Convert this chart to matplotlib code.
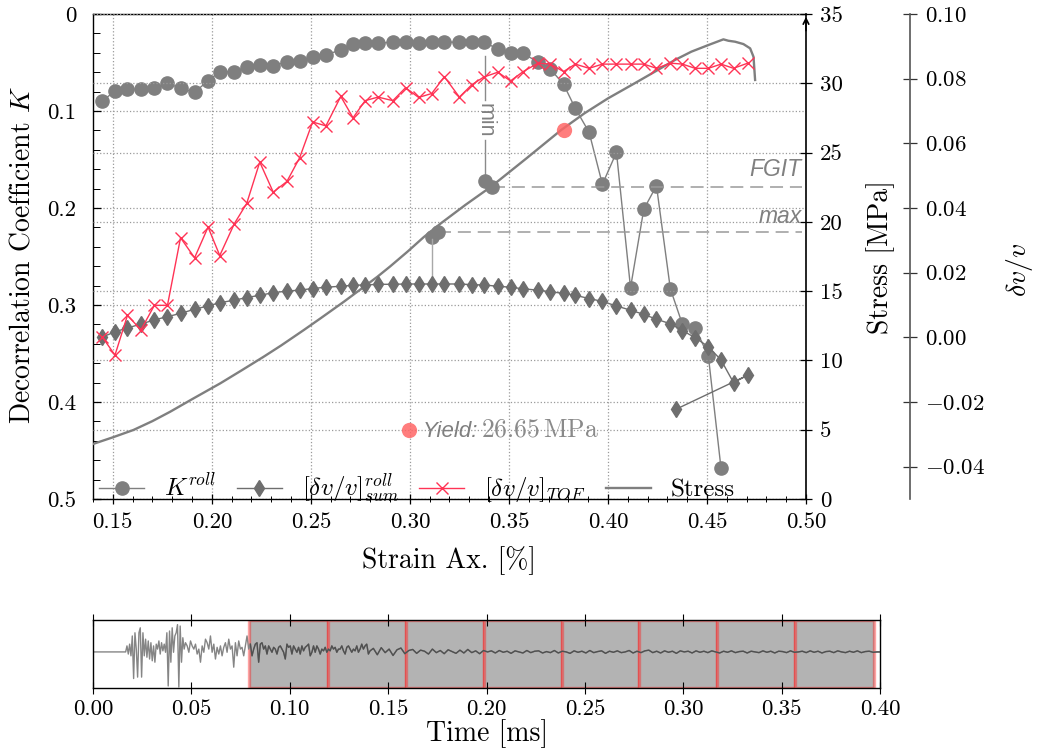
import numpy as np
import matplotlib
matplotlib.use("Agg")
import matplotlib.pyplot as plt
from matplotlib.patches import Rectangle
from matplotlib.ticker import MultipleLocator, FixedLocator, FuncFormatter

plt.rcParams['font.family'] = 'cmr10'
plt.rcParams['mathtext.fontset'] = 'cm'
plt.rcParams['axes.formatter.use_mathtext'] = True
plt.rcParams['axes.unicode_minus'] = True

# ---------------- data ----------------
strain = [0.1447, 0.1511, 0.1574, 0.1642, 0.1710, 0.1776, 0.1842, 0.1913, 0.1981, 0.2040,
          0.2114, 0.2176, 0.2242, 0.2310, 0.2379, 0.2443, 0.2509, 0.2576, 0.2651, 0.2713,
          0.2774, 0.2839, 0.2914, 0.2978, 0.3044, 0.3110, 0.3174, 0.3250, 0.3312, 0.3373,
          0.3444, 0.3508, 0.3572, 0.3647, 0.3709, 0.3776, 0.3835, 0.3905, 0.3972, 0.4043,
          0.4114, 0.4181, 0.4245, 0.4315, 0.4376, 0.4440, 0.4507, 0.4571]
strain_extra = [0.4634, 0.4706]
strain_sum_last = [0.4345]

K_roll = [0.0897, 0.0794, 0.0776, 0.0776, 0.0760, 0.0714, 0.0766, 0.0807, 0.0688, 0.0595,
          0.0595, 0.0546, 0.0529, 0.0533, 0.0495, 0.0485, 0.0446, 0.0420, 0.0371, 0.0309,
          0.0302, 0.0302, 0.0289, 0.0289, 0.0296, 0.0289, 0.0289, 0.0292, 0.0289, 0.0289,
          0.0361, 0.0405, 0.0405, 0.0498, 0.0567, 0.0725, 0.0972, 0.1220, 0.1756, 0.1426,
          0.2822, 0.2013, 0.1770, 0.2832, 0.3199, 0.3234, 0.3526, 0.4684]

dvv_sum = [0.0001, 0.0017, 0.0029, 0.0041, 0.0054, 0.0064, 0.0074, 0.0087, 0.0097, 0.0107,
           0.0115, 0.0123, 0.0130, 0.0138, 0.0143, 0.0146, 0.0151, 0.0155, 0.0158, 0.0161,
           0.0162, 0.0164, 0.0164, 0.0165, 0.0165, 0.0165, 0.0165, 0.0165, 0.0163, 0.0162,
           0.0158, 0.0155, 0.0150, 0.0146, 0.0141, 0.0136, 0.0130, 0.0120, 0.0111, 0.0097,
           0.0084, 0.0071, 0.0056, 0.0042, 0.0021, -0.0001, -0.0029, -0.0070,
           -0.0140, -0.0117, -0.0222]

dvv_tof = [0.0001, -0.0055, 0.0068, 0.0023, 0.0099, 0.0099, 0.0308, 0.0246, 0.0341, 0.0253,
           0.0352, 0.0414, 0.0542, 0.0449, 0.0482, 0.0555, 0.0666, 0.0654, 0.0745, 0.0679,
           0.0732, 0.0743, 0.0732, 0.0772, 0.0742, 0.0754, 0.0806, 0.0743, 0.0781, 0.0805,
           0.0820, 0.0793, 0.0822, 0.0848, 0.0845, 0.0822, 0.0845, 0.0832, 0.0845, 0.0845,
           0.0845, 0.0845, 0.0832, 0.0848, 0.0845, 0.0832, 0.0832, 0.0845,
           0.0832, 0.0848]

stress_strain = [0.1400, 0.1500, 0.1604, 0.1700, 0.1790, 0.1900, 0.2043, 0.2150, 0.2262, 0.2350,
                 0.2465, 0.2550, 0.2667, 0.2750, 0.2836, 0.2900, 0.2988, 0.3070, 0.3157, 0.3280,
                 0.3410, 0.3590, 0.3764, 0.3880, 0.4000, 0.4135, 0.4236, 0.4338, 0.4421, 0.4507,
                 0.4583, 0.4608, 0.4642, 0.4684, 0.4718, 0.4735, 0.4743]
stress = [3.97, 4.45, 4.98, 5.62, 6.30, 7.20, 8.35, 9.28, 10.27, 11.08,
          12.20, 13.05, 14.24, 15.12, 16.04, 16.78, 17.85, 18.90, 19.90, 21.22,
          22.54, 24.60, 26.63, 27.82, 28.91, 30.00, 30.83, 31.68, 32.28, 32.76,
          33.17, 33.07, 33.00, 32.83, 32.52, 31.91, 30.24]

# markers of K-min / dv/v-max on the stress curve
min_strain = [0.3381, 0.3413]
min_stress = [22.95, 22.49]
max_strain = [0.3110, 0.3142]
max_stress = [18.88, 19.29]
fgit_stress = 22.49
max_level_stress = 19.29
yield_strain = 0.3776
yield_stress = 26.65

# tick labels
x_ticks = [0.15, 0.20, 0.25, 0.30, 0.35, 0.40, 0.45, 0.50]
k_ticks = [0.0, 0.1, 0.2, 0.3, 0.4, 0.5]
k_tick_labels = ['0', '0.1', '0.2', '0.3', '0.4', '0.5']
stress_ticks = [0, 5, 10, 15, 20, 25, 30, 35]
dvv_ticks = [-0.04, -0.02, 0.00, 0.02, 0.04, 0.06, 0.08, 0.10]
time_ticks = [0.00, 0.05, 0.10, 0.15, 0.20, 0.25, 0.30, 0.35, 0.40]

# waveform (time in ms, amplitude normalised)
wave_a_start, wave_a_step = 0.01659, 0.000676
wave_a = [0.00, 0.17, -0.06, 0.22, -0.11, 0.45, -0.75, 0.54, 0.08, -0.71,
          0.54, 0.68, -0.71, 0.54, -0.11, 0.36, -0.15, 0.31, -0.20, 0.26,
          -0.25, 0.17, -0.29, 0.22, 0.08, 0.31, -0.06, 0.26, 0.03, 0.22,
          -0.01, 0.54, -0.96, 0.59, -0.29, 0.68, -0.01, 0.45, 0.54, 0.77,
          -0.99, 0.73, -0.29, 0.40, 0.08, 0.26]
wave_b_start, wave_b_step = 0.04787, 0.000845
wave_b = [0.17, -0.01, 0.31, 0.17, 0.08, 0.22, -0.06, 0.08, -0.29, 0.17,
          -0.01, 0.36, 0.26, 0.08, 0.45, -0.01, 0.22, -0.20, 0.13, -0.06,
          0.17, -0.11, 0.13, 0.26, -0.01, 0.36, 0.08, 0.17, -0.43, 0.26,
          -0.11, 0.31, 0.08, 0.13, -0.11, 0.17, 0.45, 0.08, 0.22, -0.11,
          0.08, 0.22, 0.26, -0.29, 0.22, 0.26, 0.08, 0.17, -0.06, 0.17,
          0.08, -0.01, 0.13, 0.08, -0.06, 0.13, 0.17, 0.08, -0.01, -0.20,
          0.22, 0.13, 0.17, -0.06, 0.17, 0.08, -0.01, 0.13, -0.06, 0.17,
          0.03, 0.13, 0.17, 0.22, -0.11, -0.01, 0.17, -0.01, 0.17, 0.08,
          -0.06, 0.08, 0.03, 0.13, -0.01, 0.08, 0.03, 0.17, 0.08, 0.13,
          -0.01, 0.08, 0.08, 0.17, 0.03, -0.06, 0.13, 0.17, 0.08, -0.01,
          0.08, 0.03, 0.17, -0.01, 0.08, 0.22, 0.08, 0.17, 0.22, -0.06,
          0.03]
wave_c_start, wave_c_step = 0.1425, 0.002
wave_c = [0.10, -0.08, 0.12, -0.02, 0.08, -0.10, 0.06, 0.11, -0.05, 0.04,
          0.07, -0.04, 0.05, 0.02, -0.06, 0.08, -0.02, 0.04, -0.05, 0.06,
          0.01, -0.04, 0.05, -0.03, 0.07, -0.02, 0.03, -0.05, 0.04, 0.00,
          0.03, -0.03, 0.04, -0.01, 0.02, -0.04, 0.03, 0.00, -0.03, 0.04,
          -0.02, 0.02, 0.03, -0.03, 0.01, -0.02, 0.04, -0.03, 0.02, 0.00,
          -0.04, 0.03, -0.01, 0.02, -0.03, 0.04, -0.02, 0.01, 0.03, -0.04,
          0.02, -0.01, 0.03, -0.02, 0.00, 0.04, -0.03, 0.02, -0.02, 0.03,
          0.05, -0.02, 0.02, -0.03, 0.03, -0.01, 0.02, -0.04, 0.03, 0.00,
          0.02, -0.03, 0.03, -0.01, 0.02, -0.02, 0.03, 0.00, -0.03, 0.02,
          -0.01, 0.03, -0.02, 0.01, 0.02, -0.03, 0.02, 0.00, -0.02, 0.03,
          -0.01, 0.02, -0.03, 0.02, 0.01, -0.02, 0.03, -0.01, 0.00, 0.02,
          -0.02, 0.03, -0.01, 0.02, -0.03, 0.01, 0.02, -0.02, 0.03, 0.00,
          -0.02, 0.02, -0.01, 0.03, -0.02, 0.01, 0.02, -0.01, 0.00]
window_edges = [0.0795, 0.1192, 0.1590, 0.1988, 0.2383, 0.2775, 0.3172, 0.3570, 0.3968]

# ---------------- styling ----------------
GREY = '#7f7f7f'
DGREY = '#6e6e6e'
RED = '#ff3355'
TICK_FS = 16.5
LABEL_FS = 20
SANS = 'Liberation Sans'

fig = plt.figure(figsize=(10.45, 7.49), dpi=100)
W, H = 1045.0, 749.0
ax = fig.add_axes([93 / W, 1 - 499 / H, 713 / W, 485 / H])
ax2 = ax.twinx()
ax3 = ax.twinx()

ax.set_xlim(0.14, 0.50)
ax.set_ylim(0.5, 0.0)
ax2.set_ylim(0, 35)
ax3.set_ylim(-0.05, 0.10)

# grids
ax.grid(True, which='major', ls=':', color='#9a9a9a', lw=0.9)
ax2.yaxis.grid(True, ls=':', color='#9a9a9a', lw=0.9)
ax.set_axisbelow(True)

# spines
for s in ['left', 'bottom', 'top']:
    ax.spines[s].set_color('black')
    ax.spines[s].set_linewidth(1.0)
ax.spines['right'].set_visible(False)
for s in ['left', 'bottom', 'top']:
    ax2.spines[s].set_visible(False)
    ax3.spines[s].set_visible(False)
ax2.spines['right'].set_color('black')
ax2.spines['right'].set_linewidth(1.2)
ax3.spines['right'].set_position(('axes', 817 / 713))
ax3.spines['right'].set_color('#555555')
ax3.spines['right'].set_linewidth(1.2)

# ticks
ax.xaxis.set_major_locator(FixedLocator(x_ticks))
ax.xaxis.set_minor_locator(MultipleLocator(0.01))
ax.xaxis.set_major_formatter(FuncFormatter(lambda v, p: '%.2f' % v))
ax.set_yticks(k_ticks)
ax.set_yticklabels(k_tick_labels)
ax.yaxis.set_minor_locator(MultipleLocator(0.02))
ax.tick_params(axis='x', which='major', direction='inout', length=7, width=0.9, labelsize=TICK_FS, pad=6)
ax.tick_params(axis='x', which='minor', direction='inout', length=5, width=0.7)
ax.tick_params(axis='y', which='major', direction='in', length=6, width=0.9, labelsize=TICK_FS, pad=12)
ax.tick_params(axis='y', which='minor', direction='in', length=5, width=0.7)

ax2.set_yticks(stress_ticks)
ax2.set_yticklabels([str(t) for t in stress_ticks])
ax2.tick_params(axis='y', direction='inout', length=8, width=0.9, labelsize=TICK_FS, pad=6)

ax3.set_yticks(dvv_ticks)
ax3.yaxis.set_major_formatter(FuncFormatter(lambda v, p: r'$%.2f$' % v))
ax3.tick_params(axis='y', direction='inout', length=10, width=0.9, labelsize=TICK_FS, pad=6,
                color='#333333')

# ---------------- data plots ----------------
ax2.plot(stress_strain, stress, color=GREY, lw=1.7, zorder=2, label='Stress')

lk, = ax.plot(strain, K_roll, color=GREY, lw=1.0, marker='o', ms=9.5,
              mfc=GREY, mec=GREY, zorder=3, label=r'$K^{roll}$')

ls_, = ax3.plot(strain + strain_extra + strain_sum_last, dvv_sum, color=DGREY, lw=1.0,
                marker='d', ms=8, mfc=DGREY, mec=DGREY, zorder=3,
                label=r'$[\delta v/v]^{roll}_{sum}$')
lt, = ax3.plot(strain + strain_extra, dvv_tof, color=RED, lw=1.0, marker='x', ms=8,
               mew=1.0, zorder=3, label=r'$[\delta v/v]_{TOF}$')
lst, = ax2.plot([], [], color=GREY, lw=1.7, label='Stress')

# min / max markers & guides
ax2.plot(min_strain, min_stress, 'o', color=GREY, ms=9.5, zorder=4)
ax2.plot(max_strain, max_stress, 'o', color=GREY, ms=9.5, zorder=4)
ax2.plot([min_strain[1], 0.4978], [fgit_stress, fgit_stress], color='#9a9a9a', lw=1.1,
         ls=(0, (8.5, 4.5)), zorder=2)
ax2.plot([max_strain[1], 0.4978], [max_level_stress, max_level_stress], color='#9a9a9a', lw=1.1,
         ls=(0, (8.5, 4.5)), zorder=2)
ax.plot([min_strain[0], min_strain[0], np.nan, min_strain[0], min_strain[0]],
        [0.0433, 0.0887, np.nan, 0.1299, 0.1722], color='#8a8a8a', lw=1.0, zorder=2)
ax.text(min_strain[0], 0.1093, 'min', rotation=270, ha='center', va='center',
        fontsize=15.5, family=SANS, color='#808080')
ax3.plot([max_strain[0], max_strain[0]], [0.0165, 0.0305], color='#a8a8a8', lw=1.0, zorder=2)

ax2.text(0.4978, 23.75, 'FGIT', ha='right', va='center', fontsize=16.5, family=SANS,
         style='italic', color='#808080')
ax2.text(0.4978, 20.42, 'max', ha='right', va='center', fontsize=16.5, family=SANS,
         style='italic', color='#808080')

# yield
ax2.plot([yield_strain], [26.63], 'o', color='#ff6666', alpha=0.85, ms=11, mec='none', zorder=5)
ax2.plot([0.2995], [4.97], 'o', color='#ff6666', alpha=0.85, ms=11, mec='none', zorder=5)
ax2.text(0.3064, 4.50, 'Yield:', ha='left', va='baseline', fontsize=16, family=SANS,
         style='italic', color='#808080')
ax2.text(0.3359, 4.50, r'$\mathrm{%.2f\,MPa}$' % yield_stress, ha='left', va='baseline',
         fontsize=18.5, color='#8a8a8a')

# arrow on stress axis
ax2.annotate('', xy=(1.0, 1.0), xytext=(1.0, 0.96), xycoords='axes fraction',
             arrowprops=dict(arrowstyle='->', color='black', lw=1.2, mutation_scale=10))

# labels
ax.set_xlabel('Strain Ax. [%]', fontsize=LABEL_FS)
ax.xaxis.label.set_va('center')
ax.xaxis.set_label_coords(0.499, -0.126)
ax.set_ylabel('Decorrelation Coefficient $K$', fontsize=LABEL_FS)
ax.yaxis.label.set_va('center')
ax.yaxis.set_label_coords(-0.0996, 0.503)
ax2.set_ylabel('Stress [MPa]', fontsize=LABEL_FS)
ax2.yaxis.label.set_va('center')
ax2.yaxis.set_label_coords(1.104, 0.499)
ax3.set_ylabel(r'$\delta v/v$', fontsize=LABEL_FS)
ax3.yaxis.label.set_va('center')
ax3.yaxis.set_label_coords(1.300, 0.472)

# legend
leg = ax3.legend([lk, ls_, lt, lst], [lk.get_label(), ls_.get_label(), lt.get_label(), 'Stress'],
                 loc='lower left', bbox_to_anchor=(-0.012, -0.045), ncol=4, frameon=False,
                 fontsize=18, handlelength=1.8, handletextpad=0.8, columnspacing=0.8,
                 borderaxespad=0.2)

# ---------------- waveform panel ----------------
bx = fig.add_axes([93 / W, 1 - 688 / H, 787 / W, 68 / H])
t_a = wave_a_start + wave_a_step * np.arange(len(wave_a))
t_b = wave_b_start + wave_b_step * np.arange(len(wave_b))
t_c = wave_c_start + wave_c_step * np.arange(len(wave_c))
wt = np.concatenate([[0.0], t_a, t_b, t_c, [0.4]])
wv = np.concatenate([[0.0], wave_a, wave_b, wave_c, [0.0]])
bx.set_xlim(0, 0.4)
bx.set_ylim(-1.017, 0.90)
y0, y1 = bx.get_ylim()
for i in range(len(window_edges) - 1):
    bx.add_patch(Rectangle((window_edges[i], y0), window_edges[i + 1] - window_edges[i], y1 - y0,
                           fc='#b3b3b3', ec=(1, 0.1, 0.1, 0.4), lw=2.4, zorder=1.5))
bx.plot(wt, wv, color='#858585', lw=1.0, zorder=2)
m = wt >= window_edges[0]
bx.plot(wt[m], wv[m], color='#505050', lw=1.0, zorder=3)
bx.set_yticks([])
bx.set_xticks(time_ticks)
bx.xaxis.set_major_formatter(FuncFormatter(lambda v, p: '%.2f' % v))
bx.tick_params(axis='x', direction='inout', length=9, width=0.8, top=True, labelsize=TICK_FS, pad=4)
for s in bx.spines.values():
    s.set_color('black')
    s.set_linewidth(1.0)
bx.set_xlabel('Time [ms]', fontsize=LABEL_FS)
bx.xaxis.label.set_va('center')
bx.xaxis.set_label_coords(0.5006, -0.665)

fig.savefig('out.png', dpi=100)
